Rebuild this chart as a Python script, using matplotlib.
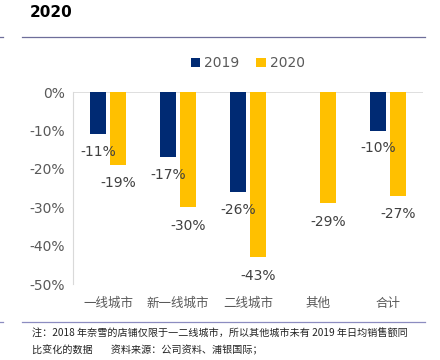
import numpy as np
import matplotlib.pyplot as plt
from matplotlib.lines import Line2D

plt.rcParams['font.family'] = ['Noto Sans CJK SC', 'DejaVu Sans']

categories = ['一线城市', '新一线城市', '二线城市', '其他', '合计']
y2019 = [-11, -17, -26, np.nan, -10]
y2020 = [-19, -30, -43, -29, -27]
yticks = [0, -10, -20, -30, -40, -50]

navy = '#002A73'
gold = '#FFC000'
grey = '#595959'

fig = plt.figure(figsize=(4.4, 3.6), dpi=100)
ax = fig.add_axes([0.166, 0.211, 0.795, 0.533])

x = np.arange(len(categories))
w = 0.23
off = 0.14
ax.bar(x - off, y2019, w, color=navy, label='2019')
ax.bar(x + off, y2020, w, color=gold, label='2020')

for xi, v in zip(x, y2019):
    if not np.isnan(v):
        ax.text(xi - off, v - 4.6, f'{v:.0f}%', ha='center', va='center',
                fontsize=10, color='#404040', family='DejaVu Sans')
for xi, v in zip(x, y2020):
    ax.text(xi + off, v - 4.8, f'{v:.0f}%', ha='center', va='center',
            fontsize=10, color='#404040', family='DejaVu Sans')

ax.set_ylim(-50, 0)
ax.set_xlim(-0.5, len(categories) - 0.5)
ax.set_yticks(yticks)
ax.set_yticklabels([f'{t}%' for t in yticks], fontsize=10, color=grey,
                   family='DejaVu Sans')
ax.set_xticks(x)
ax.set_xticklabels(categories, fontsize=9, color=grey)
ax.tick_params(length=0, pad=6)
ax.tick_params(axis='x', pad=9)
for s in ['top', 'right', 'bottom']:
    ax.spines[s].set_visible(False)
ax.spines['left'].set_color('#D9D9D9')
ax.axhline(0, color='#D9D9D9', lw=1.2, zorder=0)

ax.legend(loc='center', bbox_to_anchor=(0.5, 1.15), ncol=2, frameon=False,
          handlelength=0.7, handleheight=0.7, handletextpad=0.3,
          columnspacing=1.2, labelcolor=grey, prop={'family': 'DejaVu Sans', 'size': 10})

fig.text(0.068, 0.985, '2020', fontsize=11, fontweight='bold', va='top',
         family='DejaVu Sans')
fig.add_artist(Line2D([0.05, 0.966], [0.897, 0.897], color='#6E6E9A', lw=0.9))
fig.add_artist(Line2D([0.0, 0.007], [0.897, 0.897], color='#6E6E9A', lw=0.9))
fig.add_artist(Line2D([0.05, 0.966], [0.105, 0.105], color='#8C8CC0', lw=0.9))
fig.add_artist(Line2D([0.0, 0.007], [0.105, 0.105], color='#8C8CC0', lw=0.9))

fig.text(0.072, 0.073, '注：2018 年奈雪的店铺仅限于一二线城市，所以其他城市未有 2019 年日均销售额同',
         fontsize=7.25, va='center', color='#222222')
fig.text(0.072, 0.027, '比变化的数据        资料来源：公司资料、浦银国际；',
         fontsize=7.25, va='center', color='#222222')

fig.savefig('out.png', dpi=100)
